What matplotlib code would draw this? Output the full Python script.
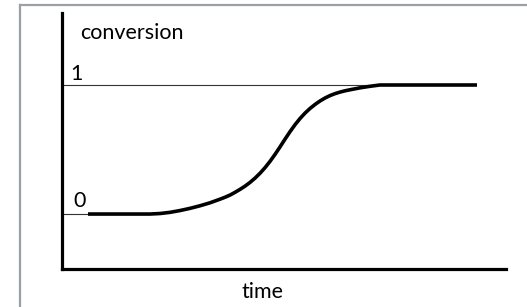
import matplotlib.pyplot as plt
from matplotlib.lines import Line2D

# time in arbitrary units, conversion 0..1
time = [2.6, 8.8, 9.8, 10.8, 11.8, 12.8, 13.8, 14.8, 15.8, 16.3,
        16.8, 17.3, 17.8, 18.3, 18.8, 19.3, 19.8, 20.3, 20.8, 21.3,
        21.8, 22.3, 22.8, 23.3, 23.8, 24.3, 24.8, 25.3, 25.8, 26.3,
        26.8, 27.3, 27.8, 28.3, 28.8, 29.8, 30.8, 31.8, 41.5]
conversion = [0.0, 0.0, 0.004, 0.013, 0.027, 0.044, 0.064, 0.087, 0.115, 0.130,
              0.147, 0.168, 0.191, 0.216, 0.245, 0.278, 0.316, 0.359, 0.408, 0.462,
              0.520, 0.580, 0.638, 0.692, 0.740, 0.782, 0.818, 0.849, 0.876, 0.899,
              0.918, 0.933, 0.945, 0.955, 0.963, 0.978, 0.990, 1.0, 1.0]
level_labels = ["0", "1"]
levels = [0.0, 1.0]
level_ends = [2.6, 31.8]

W, H = 527, 307
fig = plt.figure(figsize=(W / 100, H / 100), dpi=100)
fig.patch.set_facecolor("white")
ax = fig.add_axes([62 / W, (H - 269) / H, 444 / W, (269 - 13) / H])
ax.set_xlim(0, 44.4)
ax.set_ylim(-0.426, 1.558)
for side in ("top", "right"):
    ax.spines[side].set_visible(False)
for side in ("left", "bottom"):
    ax.spines[side].set_linewidth(2.3)
    ax.spines[side].set_capstyle("projecting")
ax.set_xticks([])
ax.set_yticks([])

font = dict(family=["Lato", "DejaVu Sans"], size=15.5, color="black")

for lv, end in zip(levels, level_ends):
    ax.plot([0, end], [lv, lv], color="#333333", lw=0.8, solid_capstyle="butt")
ax.plot(time, conversion, color="black", lw=2.6,
        solid_joinstyle="round", solid_capstyle="butt")

ax.text(0.8, 1.039, level_labels[1], ha="left", va="baseline", **font)
ax.text(1.1, 0.054, level_labels[0], ha="left", va="baseline", **font)
ax.text(1.8, 1.403, "conversion", ha="left", va="center", **font)
ax.text(20.0, -0.651, "time", ha="center", va="baseline", clip_on=False, **font)

# gray frame around the picture (only top and left edges visible)
fig.add_artist(Line2D([19.5 / W, 1], [1 - 4.5 / H, 1 - 4.5 / H],
                      transform=fig.transFigure, color="#9aa0a6", lw=1.6))
fig.add_artist(Line2D([19.5 / W, 19.5 / W], [0, 1 - 4.5 / H],
                      transform=fig.transFigure, color="#9aa0a6", lw=1.6))

fig.savefig("out.png", dpi=100)
